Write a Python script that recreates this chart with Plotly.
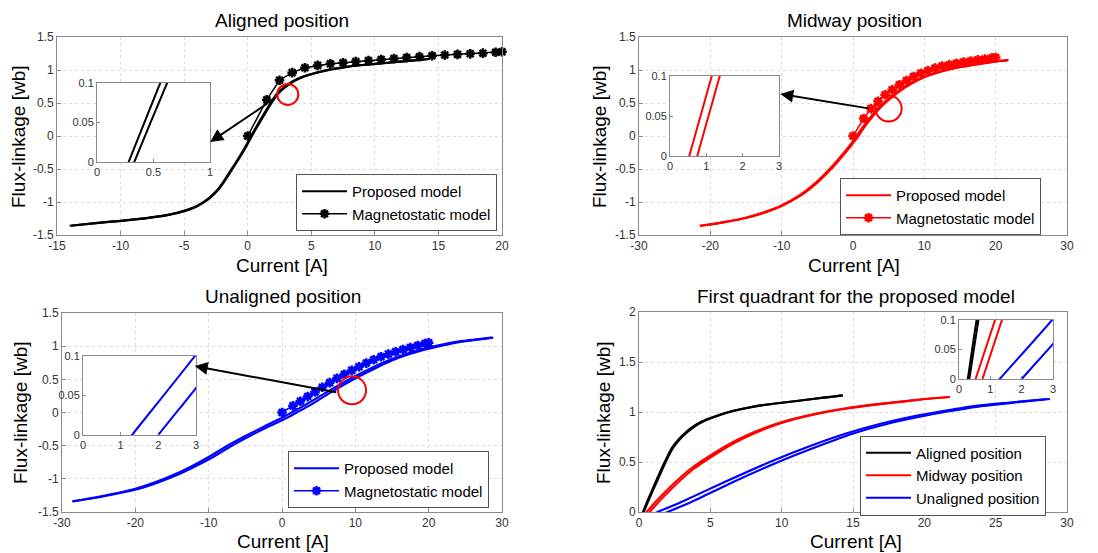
import plotly.graph_objects as go

# The page puts the figure 8 px from the top-left corner (body margin),
# so the figure is drawn 8 px smaller and all pixel positions are shifted.
OFF = 8
W, H = 1098 - OFF, 553 - OFF

# ---------------- data ----------------
# Proposed model: two close branches (a / b), shared flux levels
aligned_flux = [-1.36, -1.32, -1.285, -1.245, -1.2, -1.135, -1.06, -0.95, -0.83, -0.69,
                -0.51, -0.36, -0.2, 0.0, 0.1, 0.31, 0.47, 0.64, 0.73, 0.80,
                0.855, 0.905, 0.95, 1.005, 1.04, 1.068, 1.09, 1.11, 1.135, 1.152, 1.167]
aligned_i_a = [-14.0, -12.0, -10.0, -8.0, -6.4, -5.0, -4.0, -3.1, -2.45, -1.9,
               -1.3, -0.8, -0.3, 0.28, 0.56, 1.2, 1.7, 2.3, 2.8, 3.3,
               3.8, 4.4, 5.2, 6.4, 7.5, 8.6, 9.8, 11.0, 12.4, 13.4, 14.2]
aligned_i_b = [-13.9, -11.9, -9.9, -7.9, -6.3, -4.92, -3.93, -3.03, -2.39, -1.84,
               -1.24, -0.74, -0.24, 0.33, 0.62, 1.27, 1.77, 2.38, 2.88, 3.4,
               3.9, 4.5, 5.3, 6.5, 7.6, 8.7, 9.9, 11.1, 12.5, 13.5, 14.3]

midway_flux = [-1.36, -1.338, -1.298, -1.243, -1.165, -1.06, -0.9, -0.695, -0.52, -0.4,
               -0.255, -0.1, 0.0, 0.1, 0.195, 0.3, 0.43, 0.565, 0.685, 0.795,
               0.89, 0.975, 1.035, 1.078, 1.13, 1.15]
midway_i_a = [-21.5, -20.0, -17.7, -15.2, -12.7, -10.2, -7.5, -5.1, -3.45, -2.45,
              -1.3, -0.15, 0.53, 1.15, 1.8, 2.55, 3.6, 5.0, 6.4, 8.0,
              9.8, 12.1, 14.4, 16.7, 20.0, 21.7]
midway_i_b = [-21.4, -19.85, -17.5, -15.0, -12.5, -10.0, -7.3, -4.88, -3.23, -2.23,
              -1.08, 0.07, 0.75, 1.37, 2.02, 2.77, 3.82, 5.22, 6.62, 8.22,
              10.0, 12.3, 14.6, 16.9, 20.1, 21.8]

unaligned_flux = [-1.34, -1.27, -1.15, -1.06, -0.95, -0.82, -0.67, -0.505, -0.355, -0.215,
                  -0.08, 0.0, 0.1, 0.3, 0.52, 0.66, 0.78, 0.885, 0.97, 1.015,
                  1.06, 1.095, 1.13]
unaligned_i_a = [-28.6, -25.0, -20.0, -17.5, -15.0, -12.5, -10.0, -7.5, -5.0, -2.5,
                 0.0, 1.3, 2.97, 6.0, 9.5, 12.0, 14.4, 17.0, 19.7, 21.5,
                 23.5, 26.0, 28.6]
unaligned_i_b = [-28.5, -24.6, -19.5, -17.0, -14.5, -12.0, -9.4, -6.9, -4.4, -1.9,
                 0.7, 2.0, 3.67, 6.6, 10.1, 12.6, 14.9, 17.5, 20.3, 22.1,
                 24.1, 26.4, 28.8]

# Magnetostatic model
mag_current = [0, 1.5, 2.5, 3.5, 4.5, 5.5, 6.5, 7.5, 8.5, 9.5, 10.5,
               11.5, 12.5, 13.5, 14.5, 15.5, 16.5, 17.5, 18.5, 19.5, 20]
mag_aligned = [0, 0.55, 0.845, 0.96, 1.035, 1.07, 1.095, 1.11, 1.127, 1.142, 1.16,
               1.175, 1.19, 1.202, 1.215, 1.227, 1.237, 1.245, 1.255, 1.27, 1.277]
mag_midway = [0, 0.265, 0.415, 0.525, 0.625, 0.70, 0.775, 0.84, 0.90, 0.95, 0.99,
              1.03, 1.06, 1.08, 1.10, 1.12, 1.135, 1.155, 1.165, 1.185, 1.19]
mag_unaligned = [0, 0.10, 0.17, 0.24, 0.31, 0.38, 0.45, 0.515, 0.575, 0.635, 0.69,
                 0.745, 0.795, 0.84, 0.88, 0.915, 0.95, 0.98, 1.01, 1.04, 1.05]

# tick labels
flux_ticks = [-1.5, -1, -0.5, 0, 0.5, 1, 1.5]
flux_ticktext = ["-1.5", "-1", "-0.5", "0", "0.5", "1", "1.5"]
cur_ticks_aligned = [-15, -10, -5, 0, 5, 10, 15, 20]
cur_ticktext_aligned = ["-15", "-10", "-5", "0", "5", "10", "15", "20"]
cur_ticks_wide = [-30, -20, -10, 0, 10, 20, 30]
cur_ticktext_wide = ["-30", "-20", "-10", "0", "10", "20", "30"]
q1_cur_ticks = [0, 5, 10, 15, 20, 25, 30]
q1_flux_ticks = [0, 0.5, 1, 1.5, 2]
q1_flux_ticktext = ["0", "0.5", "1", "1.5", "2"]
inset_flux_ticks = [0, 0.05, 0.1]
inset_flux_ticktext = ["0", "0.05", "0.1"]
inset1_cur_ticks = [0, 0.5, 1]
inset1_cur_ticktext = ["0", "0.5", "1"]
inset_cur_ticks = [0, 1, 2, 3]

titles = ["Aligned position", "Midway position", "Unaligned position",
          "First quadrant for the proposed model"]
xlabel = "Current [A]"
ylabel = "Flux-linkage [wb]"

BLACK, RED, BLUE = "#000000", "#ff0000", "#0000ff"

# ---------------- layout helpers (reference pixel -> paper) ----------------
def px(x):
    return (x - OFF) / W

def py(y):
    return 1 - (y - OFF) / H

def dx(a, b):
    return [px(a), px(b)]

def dy(top, bottom):
    return [py(bottom), py(top)]

FONT = "Liberation Sans, Arial, sans-serif"
tickfont = dict(family=FONT, size=12, color="#333333")
insetfont = dict(family=FONT, size=11, color="#333333")

fig = go.Figure()

def branch_traces(ia, ib, flux, color, xa, ya, name=None, legend=None, width=2.2):
    for k, i_vals in enumerate((ia, ib)):
        fig.add_trace(go.Scatter(
            x=i_vals, y=flux, mode="lines", xaxis=xa, yaxis=ya,
            line=dict(color=color, width=width, shape="spline", smoothing=0.5),
            name=name if name else "",
            showlegend=(name is not None and k == 0),
            legend=legend if legend else "legend",
            hoverinfo="skip"))

def mag_trace(y, color, xa, ya, legend):
    fig.add_trace(go.Scatter(
        x=mag_current, y=y, mode="lines+markers", xaxis=xa, yaxis=ya,
        line=dict(color=color, width=1.5),
        marker=dict(symbol="asterisk-open", size=8,
                    line=dict(color=color, width=2.5), color=color),
        name="Magnetostatic model", legend=legend, cliponaxis=False,
        hoverinfo="skip"))

# panel 1
branch_traces(aligned_i_a, aligned_i_b, aligned_flux, BLACK, "x", "y",
              "Proposed model", "legend")
mag_trace(mag_aligned, BLACK, "x", "y", "legend")
# panel 2
branch_traces(midway_i_a, midway_i_b, midway_flux, RED, "x2", "y2",
              "Proposed model", "legend2")
mag_trace(mag_midway, RED, "x2", "y2", "legend2")
# panel 3
branch_traces(unaligned_i_a, unaligned_i_b, unaligned_flux, BLUE, "x3", "y3",
              "Proposed model", "legend3")
mag_trace(mag_unaligned, BLUE, "x3", "y3", "legend3")
# panel 4
branch_traces(aligned_i_a, aligned_i_b, aligned_flux, BLACK, "x4", "y4",
              "Aligned position", "legend4")
branch_traces(midway_i_a, midway_i_b, midway_flux, RED, "x4", "y4",
              "Midway position", "legend4")
branch_traces(unaligned_i_a, unaligned_i_b, unaligned_flux, BLUE, "x4", "y4",
              "Unaligned position", "legend4")
# insets
branch_traces(aligned_i_a, aligned_i_b, aligned_flux, BLACK, "x5", "y5", width=2)
branch_traces(midway_i_a, midway_i_b, midway_flux, RED, "x6", "y6", width=2)
branch_traces(unaligned_i_a, unaligned_i_b, unaligned_flux, BLUE, "x7", "y7", width=2)
branch_traces(aligned_i_a, aligned_i_b, aligned_flux, BLACK, "x8", "y8", width=2)
branch_traces(midway_i_a, midway_i_b, midway_flux, RED, "x8", "y8", width=2)
branch_traces(unaligned_i_a, unaligned_i_b, unaligned_flux, BLUE, "x8", "y8", width=2)

def main_axis(domain, rng, tv, tt, anchor, grid=True):
    return dict(domain=domain, range=rng, tickvals=tv, ticktext=tt, anchor=anchor,
                showline=True, mirror=True, linecolor="#8a8a8a", linewidth=1,
                ticks="inside", ticklen=4, tickcolor="#8a8a8a",
                showgrid=grid, gridcolor="#dcdcdc", griddash="dot", gridwidth=1,
                zeroline=False, tickfont=tickfont, fixedrange=True, automargin=False)

def inset_axis(domain, rng, tv, tt, anchor):
    d = main_axis(domain, rng, tv, tt, anchor, grid=False)
    d["tickfont"] = insetfont
    d["ticklen"] = 3
    return d

L = {}
L["xaxis"] = main_axis(dx(57, 502), [-15, 20], cur_ticks_aligned, cur_ticktext_aligned, "y")
L["yaxis"] = main_axis(dy(37, 235), [-1.5, 1.5], flux_ticks, flux_ticktext, "x")
L["xaxis2"] = main_axis(dx(639, 1067), [-30, 30], cur_ticks_wide, cur_ticktext_wide, "y2")
L["yaxis2"] = main_axis(dy(37, 235), [-1.5, 1.5], flux_ticks, flux_ticktext, "x2")
L["xaxis3"] = main_axis(dx(62, 502), [-30, 30], cur_ticks_wide, cur_ticktext_wide, "y3")
L["yaxis3"] = main_axis(dy(313, 512), [-1.5, 1.5], flux_ticks, flux_ticktext, "x3")
L["xaxis4"] = main_axis(dx(639, 1067), [0, 30], q1_cur_ticks,
                        [str(v) for v in q1_cur_ticks], "y4")
L["yaxis4"] = main_axis(dy(312, 512), [0, 2], q1_flux_ticks, q1_flux_ticktext, "x4")

L["xaxis5"] = inset_axis(dx(97, 210), [0, 1], inset1_cur_ticks, inset1_cur_ticktext, "y5")
L["yaxis5"] = inset_axis(dy(83, 162), [0, 0.1], inset_flux_ticks, inset_flux_ticktext, "x5")
L["xaxis6"] = inset_axis(dx(670, 779), [0, 3], inset_cur_ticks,
                         [str(v) for v in inset_cur_ticks], "y6")
L["yaxis6"] = inset_axis(dy(76, 156), [0, 0.1], inset_flux_ticks, inset_flux_ticktext, "x6")
L["xaxis7"] = inset_axis(dx(83, 196), [0, 3], inset_cur_ticks,
                         [str(v) for v in inset_cur_ticks], "y7")
L["yaxis7"] = inset_axis(dy(356, 435), [0, 0.1], inset_flux_ticks, inset_flux_ticktext, "x7")
L["xaxis8"] = inset_axis(dx(959, 1053), [0, 3], inset_cur_ticks,
                         [str(v) for v in inset_cur_ticks], "y8")
L["yaxis8"] = inset_axis(dy(320, 379), [0, 0.1], inset_flux_ticks, inset_flux_ticktext, "x8")

legend_style = dict(bgcolor="white", bordercolor="#555555", borderwidth=1,
                    font=dict(family=FONT, size=15, color="#000000"),
                    itemwidth=45, tracegroupgap=0, xanchor="right", yanchor="middle")
L["legend"] = dict(x=px(497), y=py(202.5), **legend_style)
L["legend2"] = dict(x=px(1041), y=py(206.5), **legend_style)
L["legend3"] = dict(x=px(489), y=py(479.5), **legend_style)
L["legend4"] = dict(x=px(1046), y=py(475.5), **legend_style)

annotations = []
# titles
for txt, (tx, ty) in zip(titles, [(282, 20), (854, 20), (283, 296), (856, 296)]):
    annotations.append(dict(text=txt, x=px(tx), y=py(ty), xref="paper", yref="paper",
                            showarrow=False, xanchor="center", yanchor="middle",
                            font=dict(family=FONT, size=19, color="#000000")))
for (tx, ty) in [(282, 265), (854, 265), (283, 541), (856, 541)]:
    annotations.append(dict(text=xlabel, x=px(tx), y=py(ty), xref="paper", yref="paper",
                            showarrow=False, xanchor="center", yanchor="middle",
                            font=dict(family=FONT, size=19, color="#000000")))
for (tx, ty) in [(19, 137), (600, 137), (20, 413), (603, 412)]:
    annotations.append(dict(text=ylabel, x=px(tx), y=py(ty), xref="paper", yref="paper",
                            showarrow=False, xanchor="center", yanchor="middle", textangle=-90,
                            font=dict(family=FONT, size=19, color="#000000")))
# arrows (head at inset edge, tail on the curve)
for xr, yr, hx, hy, tx, ty in [("x", "y", -2.95, -0.09, 1.6, 0.5),
                               ("x2", "y2", -10.2, 0.636, 2.37, 0.415),
                               ("x3", "y3", -11.9, 0.70, 7.6, 0.30)]:
    annotations.append(dict(text="", showarrow=True, arrowhead=2, arrowsize=1.3,
                            arrowwidth=2, arrowcolor="#000000",
                            xref=xr, yref=yr, x=hx, y=hy, axref=xr, ayref=yr, ax=tx, ay=ty))

shapes = []
for xr, yr, cx, cy, r in [("x", "y", 3.15, 0.63, 10.5),
                          ("x2", "y2", 5.0, 0.415, 13),
                          ("x3", "y3", 9.55, 0.335, 14)]:
    shapes.append(dict(type="circle", xref=xr, yref=yr, xsizemode="pixel", ysizemode="pixel",
                       xanchor=cx, yanchor=cy, x0=-r, x1=r, y0=-r, y1=r,
                       line=dict(color=RED, width=2)))

fig.update_layout(width=W, height=H, margin=dict(l=0, r=0, t=0, b=0, autoexpand=False),
                  paper_bgcolor="white", plot_bgcolor="white",
                  annotations=annotations, shapes=shapes, **L)

fig.write_html("out.html")
